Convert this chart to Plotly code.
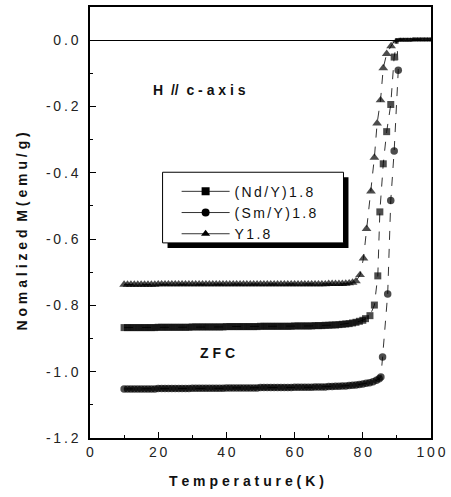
import plotly.graph_objects as go

# ---- data ----
flat_T = [10, 11, 12, 13, 14, 15, 16, 17, 18, 19, 20, 21, 22, 23, 24, 25, 26, 27, 28, 29,
          30, 31, 32, 33, 34, 35, 36, 37, 38, 39, 40, 41, 42, 43, 44, 45, 46, 47, 48, 49,
          50, 51, 52, 53, 54, 55, 56, 57, 58, 59, 60, 61, 62, 63, 64, 65, 66, 67, 68, 69,
          70, 71, 72, 73, 74, 75, 76, 77, 78]

above_T = [90, 91, 92, 93, 94, 95, 96, 97, 98, 99, 100]
above_M = [0.0, 0.001, 0.001, 0.001, 0.001, 0.002, 0.002, 0.002, 0.002, 0.002, 0.002]

# Y1.8 (triangles)
y_flat_M = [-0.737, -0.737, -0.737, -0.737, -0.737, -0.737, -0.737, -0.737, -0.737, -0.737,
            -0.736, -0.736, -0.736, -0.736, -0.736, -0.736, -0.736, -0.736, -0.736, -0.736,
            -0.736, -0.736, -0.736, -0.736, -0.736, -0.736, -0.736, -0.736, -0.736, -0.736,
            -0.736, -0.736, -0.736, -0.736, -0.736, -0.736, -0.736, -0.736, -0.736, -0.736,
            -0.736, -0.736, -0.736, -0.736, -0.736, -0.736, -0.736, -0.736, -0.736, -0.736,
            -0.736, -0.736, -0.736, -0.736, -0.736, -0.736, -0.736, -0.736, -0.736, -0.736,
            -0.735, -0.735, -0.735, -0.735, -0.735, -0.734, -0.733, -0.731, -0.727]
y_trans_T = [79.2, 80.2, 81.1, 82.4, 83.4, 84.2, 85.2, 86.0, 87.0, 88.3, 89.2]
y_trans_M = [-0.708, -0.658, -0.569, -0.456, -0.354, -0.251, -0.181, -0.084, -0.041, -0.018, -0.004]

# (Nd/Y)1.8 (squares)
nd_flat_M = [-0.867, -0.867, -0.867, -0.867, -0.867, -0.867, -0.867, -0.867, -0.867, -0.867,
             -0.866, -0.866, -0.866, -0.866, -0.866, -0.866, -0.866, -0.866, -0.866, -0.866,
             -0.865, -0.865, -0.865, -0.865, -0.865, -0.865, -0.865, -0.865, -0.865, -0.865,
             -0.864, -0.864, -0.864, -0.864, -0.864, -0.864, -0.864, -0.864, -0.864, -0.864,
             -0.863, -0.863, -0.863, -0.863, -0.863, -0.863, -0.863, -0.863, -0.863, -0.863,
             -0.862, -0.862, -0.862, -0.862, -0.862, -0.862, -0.861, -0.861, -0.861, -0.860,
             -0.860, -0.859, -0.859, -0.858, -0.857, -0.856, -0.855, -0.853, -0.851]
nd_trans_T = [79.0, 80.0, 80.8, 82.1, 83.4, 84.4, 85.0, 86.0, 87.0, 88.2, 89.2, 89.9]
nd_trans_M = [-0.848, -0.845, -0.840, -0.831, -0.799, -0.711, -0.518, -0.373, -0.276, -0.194, -0.051, -0.005]

# (Sm/Y)1.8 (circles)
sm_flat_M = [-1.052, -1.052, -1.052, -1.052, -1.052, -1.052, -1.052, -1.052, -1.052, -1.052,
             -1.051, -1.051, -1.051, -1.051, -1.051, -1.051, -1.051, -1.051, -1.051, -1.051,
             -1.050, -1.050, -1.050, -1.050, -1.050, -1.050, -1.050, -1.050, -1.050, -1.050,
             -1.049, -1.049, -1.049, -1.049, -1.049, -1.049, -1.049, -1.049, -1.049, -1.049,
             -1.048, -1.048, -1.048, -1.048, -1.048, -1.048, -1.048, -1.048, -1.048, -1.048,
             -1.047, -1.047, -1.047, -1.047, -1.047, -1.047, -1.046, -1.046, -1.046, -1.046,
             -1.045, -1.045, -1.044, -1.044, -1.043, -1.043, -1.042, -1.041, -1.040]
sm_trans_T = [79.0, 80.0, 81.0, 82.0, 83.0, 84.0, 84.8, 85.3, 85.8, 87.3, 88.2, 89.2, 90.4]
sm_trans_M = [-1.039, -1.037, -1.035, -1.033, -1.030, -1.026, -1.021, -1.016, -0.956, -0.766, -0.484, -0.334, -0.091]

x_ticks = [0, 20, 40, 60, 80, 100]
y_ticks = [0.0, -0.2, -0.4, -0.6, -0.8, -1.0, -1.2]
y_tick_labels = ["0.0", "-0.2", "-0.4", "-0.6", "-0.8", "-1.0", "-1.2"]

series = [
    ("(Nd/Y)1.8", "square", 7, flat_T + nd_trans_T + above_T, nd_flat_M + nd_trans_M + above_M),
    ("(Sm/Y)1.8", "circle", 7.5, flat_T + sm_trans_T + above_T, sm_flat_M + sm_trans_M + above_M),
    ("Y1.8", "triangle-up", 8.5, flat_T + y_trans_T + above_T, y_flat_M + y_trans_M + above_M),
]

TS = "\u2009"  # thin space
SS = "\u2006"  # six-per-em space


def spaced(s, sep):
    return sep.join(s)


fig = go.Figure()
for name, sym, size, xs, ys in series:
    sizes = [size if v < -0.01 else 4 for v in ys]
    fig.add_trace(go.Scatter(
        x=xs, y=ys, mode="lines+markers", showlegend=False,
        line=dict(color="#333333", width=1, dash="dash"),
        marker=dict(symbol=sym, size=sizes, color="black", line=dict(width=0)),
    ))
# legend entries (solid line samples as in the original)
for name, sym, size, xs, ys in series:
    fig.add_trace(go.Scatter(
        x=[None], y=[None], mode="lines+markers", name=spaced(name, SS),
        line=dict(color="#333333", width=1),
        marker=dict(symbol=sym, size=8, color="black"),
    ))

axis_font = dict(family="Liberation Sans, Arial", size=14, color="#222222")
title_font = dict(family="Liberation Sans, Arial", size=14, color="#111")
fig.update_xaxes(
    range=[0, 100], tickmode="array", tickvals=x_ticks,
    ticktext=[spaced(str(v), TS) for v in x_ticks],
    ticks="inside", ticklen=6, tickwidth=1, tickcolor="black",
    minor=dict(ticks="inside", ticklen=3, tickvals=[10, 30, 50, 70, 90], tickcolor="black"),
    showline=True, linecolor="black", linewidth=1.5, mirror=True,
    showgrid=False, zeroline=False, tickfont=axis_font,
)
fig.update_yaxes(
    range=[-1.2, 0.1], tickmode="array", tickvals=y_ticks,
    ticktext=[spaced(t, TS) for t in y_tick_labels],
    ticks="inside", ticklen=6, tickwidth=1, tickcolor="black",
    minor=dict(ticks="inside", ticklen=3, tickvals=[-0.1, -0.3, -0.5, -0.7, -0.9, -1.1], tickcolor="black"),
    showline=True, linecolor="black", linewidth=1.5, mirror=True,
    showgrid=False, zeroline=True, zerolinecolor="black", zerolinewidth=1,
    tickfont=axis_font, ticklabelstandoff=7,
)

# legend frame with drop shadow (drawn as shapes, legend itself transparent)
fig.add_shape(type="rect", xref="paper", yref="paper", layer="above",
              x0=0.2274, x1=0.758, y0=0.4411, y1=0.6051,
              fillcolor="black", line=dict(width=0))
fig.add_shape(type="rect", xref="paper", yref="paper", layer="above",
              x0=0.2128, x1=0.7434, y0=0.4527, y1=0.6166,
              fillcolor="white", line=dict(width=1, color="black"))

fig.update_layout(
    width=451, height=497,
    margin=dict(l=90, r=18, t=5, b=59),
    plot_bgcolor="white", paper_bgcolor="white",
    legend=dict(x=0.254, y=0.6085, xanchor="left", yanchor="top",
                bgcolor="rgba(0,0,0,0)", borderwidth=0,
                font=dict(family="Liberation Sans, Arial", size=14, color="#111"),
                tracegroupgap=0, itemwidth=48),
    annotations=[
        dict(x=32, y=-0.15, xref="x", yref="y", showarrow=False,
             text="<b>H  //  c - a x i s</b>", font=title_font),
        dict(x=37.4, y=-0.945, xref="x", yref="y", showarrow=False,
             text="<b>Z F C</b>", font=title_font),
        dict(x=0.458, y=1 - (481 - 5) / 433, xref="paper", yref="paper",
             xanchor="center", yanchor="middle",
             showarrow=False, text="<b>T e m p e r a t u r e ( K )</b>", font=title_font),
        dict(x=-0.198, y=0.48, xref="paper", yref="paper", textangle=-90,
             xanchor="center", yanchor="middle",
             showarrow=False, text="<b>N o m a l i z e d  M ( e m u / g )</b>", font=title_font),
    ],
)

fig.write_html("out.html", config={"displayModeBar": False},
               post_script="document.body.style.margin='0';document.body.style.padding='0';")
